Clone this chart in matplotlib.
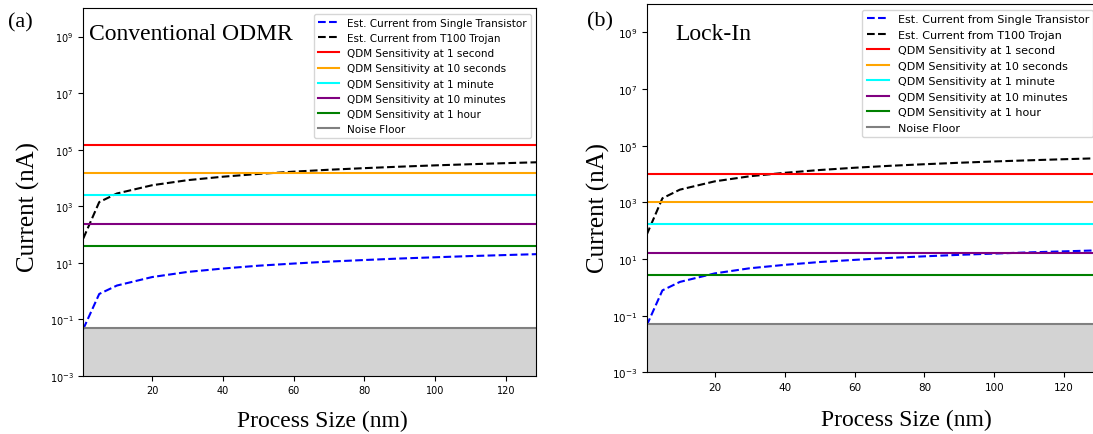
"""
QDM detectability of transistor / trojan currents vs process size
"""

import numpy as np
import matplotlib
matplotlib.use('Agg')
import matplotlib.pyplot as plt
from matplotlib.ticker import FixedLocator, NullLocator

W, H = 1093, 435

# values
process_nm = [0.5, 5, 10, 20, 30, 40, 50, 60, 70, 80, 90, 100, 110, 120, 130]
single_nA = [0.045, 0.78, 1.55, 3.1, 4.7, 6.2, 7.8, 9.3, 10.9, 12.4, 14.0,
             15.5, 17.1, 18.6, 20.2]
trojan_nA = [72, 1390, 2800, 5500, 8300, 11000, 13800, 16600, 19400, 22100,
             24900, 27700, 30400, 33200, 36000]

sens_labels = ['QDM Sensitivity at 1 second', 'QDM Sensitivity at 10 seconds',
               'QDM Sensitivity at 1 minute', 'QDM Sensitivity at 10 minutes',
               'QDM Sensitivity at 1 hour']
sens_colors = ['red', 'orange', 'cyan', 'purple', 'green']
odmr_sens_nA = [1.45e5, 1.45e4, 2.4e3, 2.4e2, 40]
lockin_sens_nA = [1.0e4, 1.0e3, 167, 16.7, 2.8]
noise_floor_nA = 0.05

y_ticks = [1e-3, 1e-1, 1e1, 1e3, 1e5, 1e7, 1e9]
x_ticks = [20, 40, 60, 80, 100, 120]

SERIF = 'Liberation Serif'


def px(x, y):
    '''pixel coords (top-left origin) -> figure fraction'''
    return x / W, 1 - y / H


def draw_panel(ax, sens, xlim, tick_size, leg_size):
    ax.axhspan(1e-3, noise_floor_nA, color='lightgray', lw=0, zorder=0)
    ax.plot(process_nm, single_nA, 'b--', lw=1.5,
            label='Est. Current from Single Transistor')
    ax.plot(process_nm, trojan_nA, 'k--', lw=1.5,
            label='Est. Current from T100 Trojan')
    for val, col, lab in zip(sens, sens_colors, sens_labels):
        ax.axhline(val, color=col, lw=1.5, label=lab)
    ax.axhline(noise_floor_nA, color='gray', lw=1.5, label='Noise Floor')

    ax.set_yscale('log')
    ax.set_ylim(1e-3, 1e10)
    ax.set_xlim(*xlim)
    ax.yaxis.set_major_locator(FixedLocator(y_ticks))
    ax.yaxis.set_minor_locator(NullLocator())
    ax.set_xticks(x_ticks)
    ax.tick_params(labelsize=tick_size)
    ax.legend(loc='upper right', fontsize=leg_size)


fig = plt.figure(figsize=(W / 100, H / 100), dpi=100)

ax1 = fig.add_axes([83.3 / W, 1 - 376.7 / H, 452.7 / W, 367.4 / H])
draw_panel(ax1, odmr_sens_nA, (0.5, 128.5), 7, 7.5)

ax2 = fig.add_axes([646.7 / W, 1 - 373.3 / H, 452.3 / W, 368.3 / H])
draw_panel(ax2, lockin_sens_nA, (0.5, 130), 7.5, 8)

# panel letters and titles
fig.text(*px(20, 23), '(a)', family=SERIF, fontsize=16, ha='center', va='center')
fig.text(*px(600, 22), '(b)', family=SERIF, fontsize=16, ha='center', va='center')
fig.text(*px(89, 40), 'Conventional ODMR', family=SERIF, fontsize=17,
         ha='left', va='baseline')
fig.text(*px(675, 39.5), 'Lock-In', family=SERIF, fontsize=17,
         ha='left', va='baseline')

# axis labels
fig.text(*px(28, 207), 'Current (nA)', family=SERIF, fontsize=18,
         rotation=90, ha='center', va='center')
fig.text(*px(598, 208), 'Current (nA)', family=SERIF, fontsize=18,
         rotation=90, ha='center', va='center')
fig.text(*px(322, 421), 'Process Size (nm)', family=SERIF, fontsize=17,
         ha='center', va='center')
fig.text(*px(906, 420), 'Process Size (nm)', family=SERIF, fontsize=17,
         ha='center', va='center')

plt.savefig('out.png', dpi=100)
